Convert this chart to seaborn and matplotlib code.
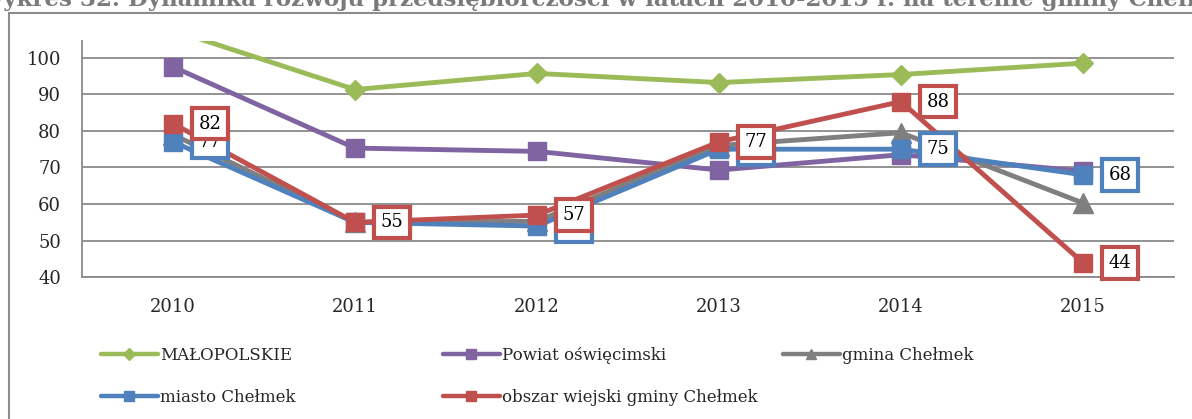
import matplotlib
matplotlib.use("Agg")
import matplotlib.pyplot as plt
from matplotlib.lines import Line2D
from matplotlib.patches import Rectangle
import seaborn as sns

# Series values, 2010-2015
years = [2010, 2011, 2012, 2013, 2014, 2015]
malopolskie = [107.5, 91.3, 95.7, 93.2, 95.4, 98.5]
powiat = [97.5, 75.3, 74.4, 69.3, 73.5, 69.0]
gmina = [79.0, 55.0, 55.3, 76.0, 79.5, 60.3]
miasto = [77, 55, 54, 75, 75, 68]
obszar = [82, 55, 57, 77, 88, 44]

names = ["MAŁOPOLSKIE", "Powiat oświęcimski", "gmina Chełmek",
         "miasto Chełmek", "obszar wiejski gminy Chełmek"]
title = ("Wykres 32. Dynamika rozwoju przedsiębiorczości w latach "
         "2010-2015 r. na terenie gminy Chełmek")

colors = ["#9BBB59", "#8064A2", "#7F7F7F", "#4F81BD", "#C0504D"]
markers = ["D", "s", "^", "s", "s"]
msizes = [10.5, 13.5, 14, 13.5, 13.5]
grid_c = "#8a8a8a"

sns.set_style("white")
plt.rcParams["font.family"] = ["DejaVu Serif"]

W, H = 1192, 419
fig = plt.figure(figsize=(W / 100, H / 100), dpi=100)
ax = fig.add_axes([82 / W, 1 - 277.3 / H, (1174 - 82) / W, (277.3 - 40.7) / H])

series = [malopolskie, powiat, gmina, miasto, obszar]
for i, vals in enumerate(series):
    sns.lineplot(x=years, y=vals, ax=ax, color=colors[i], marker=markers[i],
                 markersize=msizes[i], markeredgecolor=colors[i],
                 markeredgewidth=1, linewidth=3.5, zorder=3 + i,
                 legend=False)

# value boxes for the two Chełmek subdivisions
for vals, c, z in [(miasto, colors[3], 10), (obszar, colors[4], 11)]:
    for x, v in zip(years, vals):
        ax.annotate(f"{v:d}", xy=(x, v), xytext=(37, 0),
                    textcoords="offset pixels", ha="center",
                    va="center", fontsize=13, color="black", zorder=z,
                    bbox=dict(boxstyle="square,pad=0.38", fc="white",
                              ec=c, lw=3.0))

ax.set_xlim(2009.5, 2015.5)
ax.set_ylim(40, 104.64)
ax.set_yticks(range(40, 101, 10))
ax.set_yticklabels([str(t) for t in range(40, 101, 10)])
ax.set_xticks([2009.5 + k for k in range(7)])
ax.set_xticklabels([])
ax.set_xticks(years, minor=True)
ax.set_xticklabels([str(y) for y in years], minor=True)
ax.tick_params(axis="x", which="major", length=6, width=1.3, color=grid_c,
               direction="out")
ax.tick_params(axis="x", which="minor", length=0, pad=15, labelsize=13)
ax.tick_params(axis="y", length=6, width=1.3, color=grid_c, direction="out",
               pad=9, labelsize=13)
ax.grid(axis="y", color=grid_c, lw=1.3)
ax.set_axisbelow(True)
for s in ["top", "right"]:
    ax.spines[s].set_visible(False)
for s in ["left", "bottom"]:
    ax.spines[s].set_color(grid_c)
    ax.spines[s].set_linewidth(1.3)
ax.set_xlabel("")
ax.set_ylabel("")

# legend entries, one per slot
slots = [(101, 355), (443, 355), (783, 355), (101, 397), (443, 397)]
lsizes = [6.5, 7.5, 7.5, 7.5, 7.5]
for i, (px, py) in enumerate(slots):
    h = Line2D([], [], color=colors[i], lw=3.2, marker=markers[i],
               markersize=lsizes[i], markeredgecolor=colors[i])
    fig.legend(handles=[h], labels=[names[i]], loc="center left",
               bbox_to_anchor=(px / W, 1 - py / H), frameon=False,
               borderpad=0, borderaxespad=0, handlelength=3.4,
               handletextpad=0.15, fontsize=12)

# outer frame and the title line above it
fig.patches.append(Rectangle((9 / W, -0.5), 2, 0.5 + 1 - 13 / H,
                             transform=fig.transFigure, fill=False,
                             ec="#8c8c8c", lw=1.5))
fig.text(-22 / W, 1 - 6 / H, title, fontsize=16.5, fontweight="bold",
         color="#7a7a7a", va="baseline", ha="left")

fig.savefig("out.png", dpi=100)
